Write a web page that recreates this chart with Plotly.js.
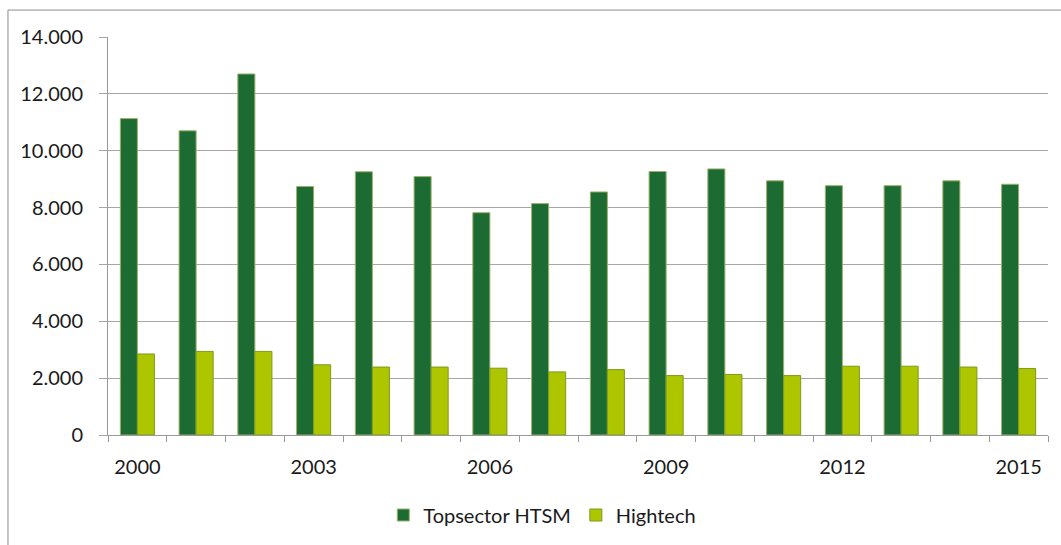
<!DOCTYPE html>
<html>
<head>
<meta charset="utf-8">
<script src="https://cdn.plot.ly/plotly-3.0.1.min.js"></script>
<style>html,body{margin:0;padding:0;background:#fff;}#chart{width:1061px;height:545px;}</style>
</head>
<body>
<div id="chart"></div>
<script>
var years = [2000,2001,2002,2003,2004,2005,2006,2007,2008,2009,2010,2011,2012,2013,2014,2015];
var tickYears = [2000,2003,2006,2009,2012,2015];
var htsm = [11130,10700,12700,8740,9260,9090,7820,8140,8550,9270,9360,8940,8770,8770,8940,8820];
var hightech = [2850,2940,2940,2470,2390,2390,2350,2220,2300,2090,2130,2090,2420,2420,2390,2340];

var boundaries = years.map(function(y){return y-0.5;}).concat([years[years.length-1]+0.5]);

var traces = [
  {type:'bar', name:'Topsector HTSM', x:years, y:htsm,
   marker:{color:'#1B6B33', line:{color:'#9FB06A', width:1}}, hoverinfo:'x+y'},
  {type:'bar', name:'Hightech', x:years, y:hightech,
   marker:{color:'#ADC600', line:{color:'#7E9A1C', width:1}}, hoverinfo:'x+y'}
];

var layout = {
  width:1061, height:545,
  margin:{l:108, r:13, t:37, b:109},
  paper_bgcolor:'#fff', plot_bgcolor:'#fff',
  separators:',.',
  font:{family:'Lato, "Open Sans", sans-serif', size:20, color:'#1a1a1a'},
  barmode:'group', bargap:0.42, bargroupgap:0,
  showlegend:true,
  legend:{orientation:'h', x:0.462, xanchor:'center', y:-0.198, yanchor:'middle',
          font:{size:20, color:'#1a1a1a'}, itemwidth:30, traceorder:'normal'},
  xaxis:{
    type:'linear', range:[years[0]-0.5, years[years.length-1]+0.5],
    tickmode:'array', tickvals:tickYears, ticktext:tickYears.map(String),
    ticks:'', showgrid:false, zeroline:false,
    showline:true, linecolor:'#999', linewidth:1,
    ticklabelstandoff:14,
    minor:{tickmode:'array', tickvals:boundaries, ticks:'outside', ticklen:6, tickcolor:'#999', tickwidth:1, showgrid:false},
    tickfont:{size:20, color:'#1a1a1a'}
  },
  yaxis:{
    range:[0,14000], tickmode:'linear', tick0:0, dtick:2000, tickformat:',d',
    showgrid:true, gridcolor:'#A6A6A6', gridwidth:1,
    zeroline:false, showline:true, linecolor:'#999', linewidth:1,
    ticks:'outside', ticklen:8, tickcolor:'#A6A6A6',
    ticklabelstandoff:12,
    tickfont:{size:20, color:'#1a1a1a'}
  },
  shapes:[
    {type:'rect', xref:'paper', yref:'paper', x0:-0.1064, x1:1.05, y0:-0.3, y1:1.0677,
     line:{color:'#8C8C8C', width:1}, fillcolor:'rgba(0,0,0,0)', layer:'below'}
  ]
};

Plotly.newPlot('chart', traces, layout, {displayModeBar:false, staticPlot:true});
</script>
</body>
</html>
